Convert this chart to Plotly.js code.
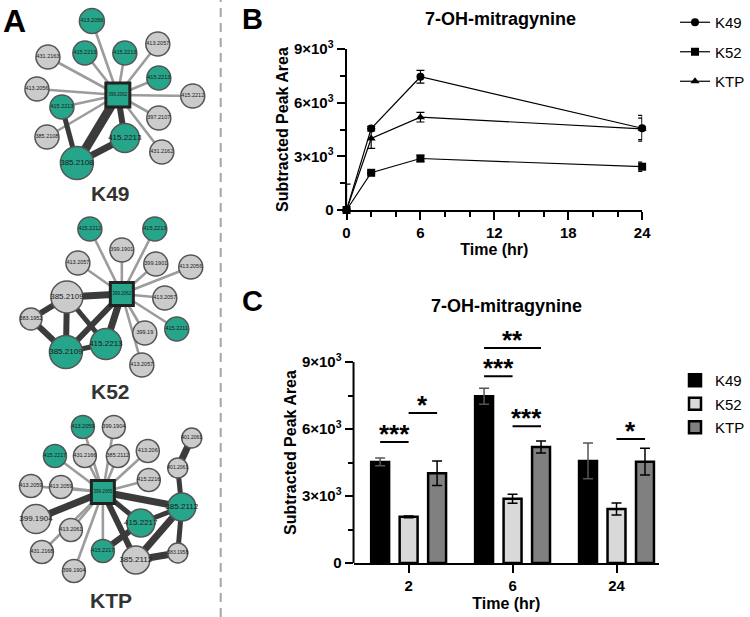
<!DOCTYPE html>
<html><head><meta charset="utf-8">
<script src="https://cdn.plot.ly/plotly-3.0.1.min.js"></script>
<style>body{margin:0;background:#fff}#chart{width:750px;height:617px}</style>
</head><body><div id="chart"></div><script>
// ---------- Panel B data (time course) ----------
const timeB = [0, 2, 6, 24];
const k49B = [0, 4550, 7450, 4570];
const k49Berr = [0, 130, 360, 720];
const k52B = [0, 2080, 2880, 2420];
const k52Berr = [0, 40, 180, 260];
const ktpB = [0, 4000, 5190, 4540];
const ktpBerr = [1450, 550, 270, 600];
const bTickVals = [0, 3000, 6000, 9000];
const bTickText = ['0', '3×10<sup>3</sup>', '6×10<sup>3</sup>', '9×10<sup>3</sup>'];
const bXTicks = [0, 6, 12, 18, 24];

// ---------- Panel C data (bars) ----------
const catsC = ['2', '6', '24'];
const k49C = [4530, 7470, 4570];
const k49Cerr = [170, 360, 800];
const k52C = [2070, 2880, 2420];
const k52Cerr = [40, 200, 270];
const ktpC = [4020, 5200, 4540];
const ktpCerr = [550, 270, 600];
// significance: group index, series a, series b, label, bracket height
const sigGroup = [0, 0, 1, 1, 1, 2];
const sigA = [0, 1, 0, 0, 1, 1];
const sigB = [1, 2, 1, 2, 2, 2];
const sigLabel = ['***', '*', '***', '**', '***', '*'];
const sigHeight = [5420, 6720, 8370, 9630, 6130, 5550];

// ---------- Panel A networks ----------
// kind: c = centre (query), t = matched (teal), g = unmatched (grey)
const k49Labels = ['399.2062','413.2056','415.2213','415.2213','413.2057','431.2163','415.2213','413.2056','415.2212','415.2213','397.2107','385.2108','415.2213','431.2162','385.2108'];
const k49X = [118, 92, 85, 125, 158, 48, 159, 37, 193, 62, 159, 47, 125, 162, 77];
const k49Y = [95, 21, 53, 53, 44, 57, 78, 89, 96, 107, 118, 137, 138, 152, 163];
const k49Size = [24, 25, 24, 24, 24, 24, 24, 24, 24, 24, 24, 24, 29, 24, 33];
const k49Kind = ['c','t','t','t','g','g','t','g','g','t','g','g','t','g','t'];
const k49Edges = [[0,1,1],[0,2,1],[0,3,1],[0,4,1],[0,5,1],[0,6,1],[0,7,1],[0,8,1],[0,9,1],[0,10,1],[0,11,1],[0,13,1],
                  [0,14,9],[0,12,6],[12,14,7],[9,14,5]];

const k52Labels = ['399.2062','415.2212','415.2213','399.1901','413.2057','399.1901','413.2056','385.2109','413.2057','383.1952','399.19','415.2211','415.2213','385.2109','413.2057'];
const k52X = [122, 90, 155, 122, 78, 156, 191, 67, 165, 31, 145, 177, 106, 66, 142];
const k52Y = [294, 229, 229, 250, 263, 264, 267, 297, 298, 319, 333, 329, 344, 352, 365];
const k52Size = [23, 24, 24, 24, 24, 24, 24, 32, 24, 22, 24, 24, 31, 33, 24];
const k52Kind = ['c','t','t','g','g','g','g','g','g','g','g','t','t','t','g'];
const k52Edges = [[0,1,1],[0,2,1],[0,3,1],[0,4,1],[0,5,1],[0,6,1],[0,8,1],[0,10,1],[0,11,1],[0,14,1],
                  [0,7,7],[7,9,6],[9,13,6],[7,13,6],[7,12,5],[0,13,6],[0,12,7],[13,12,5]];

const ktpLabels = ['399.2065','413.2059','399.1904','415.2217','431.2166','385.2112','413.206','401.2061','401.2061','413.2059','413.2059','415.2216','385.2112','399.1904','415.2217','413.2061','415.2217','431.2168','385.2112','383.1958','399.1904'];
const ktpX = [103, 83, 114, 55, 85, 118, 148, 192, 178, 31, 61, 149, 182, 36, 141, 71, 103, 42, 136, 178, 74];
const ktpY = [492, 427, 427, 456, 456, 456, 451, 438, 468, 486, 487, 480, 507, 519, 523, 530, 551, 552, 560, 553, 571];
const ktpSize = [23, 23, 23, 23, 23, 23, 23, 20, 20, 23, 23, 23, 28, 29, 28, 23, 23, 23, 28, 20, 23];
const ktpKind = ['c','t','g','t','g','g','g','g','g','g','g','g','t','g','t','g','t','g','g','g','g'];
const ktpEdges = [[0,1,1],[0,2,1],[0,3,1],[0,4,1],[0,5,1],[0,6,1],[0,9,1],[0,10,1],[0,11,1],[0,15,1],[0,16,1],[0,17,1],[0,20,1],
                  [0,13,7],[0,12,7],[0,14,5],[0,18,6],[12,14,5],[12,18,7],[12,19,5],[18,19,7],[12,8,5],[8,7,7],[16,14,6]];
const netNames = ['K49', 'K52', 'KTP'];

// ---------- styling ----------
const FONT = 'Arial, "Liberation Sans", sans-serif';
const TEAL = '#27a58a', GREY = '#cbcbcb';
const traces = [];

function addNetwork(labels, xs, ys, sizes, kinds, edges) {
  edges.forEach(([a, b, w]) => {
    traces.push({type: 'scatter', mode: 'lines', x: [xs[a], xs[b]], y: [ys[a], ys[b]],
      xaxis: 'x3', yaxis: 'y3', showlegend: false, hoverinfo: 'skip',
      line: {color: w > 1 ? '#3b3b3b' : '#9c9c9c', width: w > 1 ? w : 2.6}});
  });
  traces.push({type: 'scatter', mode: 'markers+text', x: xs, y: ys, text: labels,
    xaxis: 'x3', yaxis: 'y3', showlegend: false, cliponaxis: false, hoverinfo: 'skip',
    textposition: 'middle center',
    textfont: {family: FONT, color: '#1a1a1a', size: sizes.map((s, i) => kinds[i] === 'c' ? 4.5 : (s >= 27 ? 8 : (s <= 21 ? 5 : 5.5)))},
    marker: {size: sizes, opacity: 1, symbol: kinds.map(k => k === 'c' ? 'square' : 'circle'),
      color: kinds.map(k => k === 'g' ? GREY : TEAL),
      line: {color: kinds.map(k => k === 'c' ? '#222' : '#555'), width: kinds.map(k => k === 'c' ? 3 : 1.5)}}});
}
addNetwork(k49Labels, k49X, k49Y, k49Size, k49Kind, k49Edges);
addNetwork(k52Labels, k52X, k52Y, k52Size, k52Kind, k52Edges);
addNetwork(ktpLabels, ktpX, ktpY, ktpSize, ktpKind, ktpEdges);

// ---------- Panel B traces ----------
const bSeries = [['K49', k49B, k49Berr, 'circle'], ['K52', k52B, k52Berr, 'square'], ['KTP', ktpB, ktpBerr, 'triangle-up']];
bSeries.forEach(([name, ys, err, sym]) => {
  traces.push({type: 'scatter', mode: 'lines+markers', name: name, x: timeB, y: ys,
    xaxis: 'x', yaxis: 'y', legend: 'legend', legendgroup: 'b' + name, cliponaxis: false,
    line: {color: '#000', width: 1.2}, marker: {symbol: sym, size: 8, color: '#000'},
    error_y: {type: 'data', array: err, color: '#000', thickness: 1.2, width: 4}});
});

// ---------- Panel C traces ----------
const cSeries = [['K49', k49C, k49Cerr, '#000000', '#555'], ['K52', k52C, k52Cerr, '#d9d9d9', '#000'], ['KTP', ktpC, ktpCerr, '#808080', '#000']];
const catIdx = catsC.map((c, i) => i);
cSeries.forEach(([name, ys, err, col, ecol]) => {
  traces.push({type: 'bar', name: name, x: catIdx, y: ys, xaxis: 'x2', yaxis: 'y2',
    legend: 'legend2', legendgroup: 'c' + name,
    marker: {color: col, line: {color: '#000', width: 2.5}},
    error_y: {type: 'data', array: err, color: ecol, thickness: 1.5, width: 5}});
});

const BARGAP = 0.178;
const slot = (1 - BARGAP) / 3;
const seriesOffset = [-slot, 0, slot];

const shapes = [
  {type: 'line', xref: 'paper', yref: 'paper', x0: 221/750, x1: 221/750, y0: 0, y1: 1,
   line: {color: '#a6a6a6', width: 2, dash: '9px,6px'}},
  {type: 'line', xref: 'x2 domain', yref: 'y2', x0: 0, x1: 0, y0: 0, y1: 9000, line: {color: '#000', width: 2}}
];
const annotations = [
  {text: '<b>A</b>', xref: 'paper', yref: 'paper', x: 0.002, y: 0.998, xanchor: 'left', yanchor: 'top', showarrow: false, font: {family: FONT, size: 32, color: '#000'}},
  {text: '<b>B</b>', xref: 'paper', yref: 'paper', x: 240/750, y: 0.998, xanchor: 'left', yanchor: 'top', showarrow: false, font: {family: FONT, size: 29, color: '#000'}},
  {text: '<b>C</b>', xref: 'paper', yref: 'paper', x: 240/750, y: 1 - 283/617, xanchor: 'left', yanchor: 'top', showarrow: false, font: {family: FONT, size: 29, color: '#000'}},
  {text: '<b>7-OH-mitragynine</b>', xref: 'x domain', yref: 'paper', x: 0.52, y: 1 - 19/617, yanchor: 'middle', showarrow: false, font: {family: FONT, size: 18, color: '#000'}},
  {text: '<b>7-OH-mitragynine</b>', xref: 'x2 domain', yref: 'paper', x: 0.5, y: 1 - 306/617, yanchor: 'middle', showarrow: false, font: {family: FONT, size: 18, color: '#000'}}
];
const netLabelY = [193, 391, 600];
netNames.forEach((n, i) => annotations.push({text: '<b>' + n + '</b>', xref: 'x3', yref: 'y3', x: 111, y: netLabelY[i],
  yanchor: 'middle', showarrow: false, font: {family: FONT, size: 21, color: '#333'}}));

sigGroup.forEach((g, i) => {
  const xa = g + seriesOffset[sigA[i]], xb = g + seriesOffset[sigB[i]];
  shapes.push({type: 'line', xref: 'x2', yref: 'y2', x0: xa, x1: xb, y0: sigHeight[i], y1: sigHeight[i], line: {color: '#000', width: 2}});
  annotations.push({text: '<b>' + sigLabel[i] + '</b>', xref: 'x2', yref: 'y2', x: (xa + xb) / 2, y: sigHeight[i],
    yanchor: 'middle', yshift: 8, showarrow: false, font: {family: FONT, size: 26, color: '#000'}});
});

const tickFont = {family: FONT, size: 15, color: '#000', weight: 'bold'};
const titleFont = {family: FONT, size: 16, color: '#000', weight: 'bold'};
const axBase = {showgrid: false, zeroline: false, ticks: 'outside', ticklen: 8, tickwidth: 2, tickcolor: '#000', tickfont: tickFont, automargin: false};

const layout = {
  width: 750, height: 617, margin: {l: 0, r: 0, t: 0, b: 0},
  paper_bgcolor: '#fff', plot_bgcolor: 'rgba(0,0,0,0)',
  font: {family: FONT},
  barmode: 'group', bargap: BARGAP, bargroupgap: 0.37,
  xaxis: Object.assign({}, axBase, {domain: [347/750, 643/750], range: [0, 24], anchor: 'y',
    showline: true, linewidth: 2, linecolor: '#000', tickvals: bXTicks,
    minor: {tick0: 0, dtick: 2, ticks: 'outside', ticklen: 5, tickwidth: 2, tickcolor: '#000'},
    title: {text: 'Time (hr)', font: titleFont, standoff: 2}}),
  yaxis: Object.assign({}, axBase, {domain: [1 - 210/617, 1 - 49/617], range: [0, 9000], anchor: 'x',
    showline: true, linewidth: 2, linecolor: '#000', tickvals: bTickVals, ticktext: bTickText,
    minor: {tickvals: [1500, 4500, 7500], ticks: 'outside', ticklen: 5, tickwidth: 2, tickcolor: '#000'},
    title: {text: 'Subtracted Peak Area', font: titleFont, standoff: 1}}),
  xaxis2: Object.assign({}, axBase, {domain: [354/750, 660/750], range: [-0.53, 2.41], anchor: 'y2',
    showline: true, linewidth: 2, linecolor: '#000', tickvals: catIdx, ticktext: catsC,
    title: {text: 'Time (hr)', font: titleFont, standoff: 5}}),
  yaxis2: Object.assign({}, axBase, {domain: [1 - 563/617, 1 - 342/617], range: [0, 9900], anchor: 'x2',
    showline: false, tickvals: bTickVals, ticktext: bTickText,
    minor: {tickvals: [1500, 4500, 7500], ticks: 'outside', ticklen: 5, tickwidth: 2, tickcolor: '#000'},
    title: {text: 'Subtracted Peak Area', font: titleFont, standoff: 1}}),
  xaxis3: {domain: [0, 220/750], range: [0, 220], visible: false, fixedrange: true},
  yaxis3: {domain: [0, 1], range: [617, 0], visible: false, fixedrange: true, anchor: 'x3'},
  legend: {x: 676/750, y: 1 - 6/617, xanchor: 'left', yanchor: 'top', tracegroupgap: 7,
    font: {family: FONT, size: 15, color: '#000'}, bgcolor: 'rgba(0,0,0,0)'},
  legend2: {x: 676/750, y: 1 - 364/617, xanchor: 'left', yanchor: 'top', tracegroupgap: 1,
    font: {family: FONT, size: 15, color: '#000'}, bgcolor: 'rgba(0,0,0,0)'},
  shapes: shapes, annotations: annotations, showlegend: true
};
Plotly.newPlot('chart', traces, layout, {staticPlot: true});
</script></body></html>
